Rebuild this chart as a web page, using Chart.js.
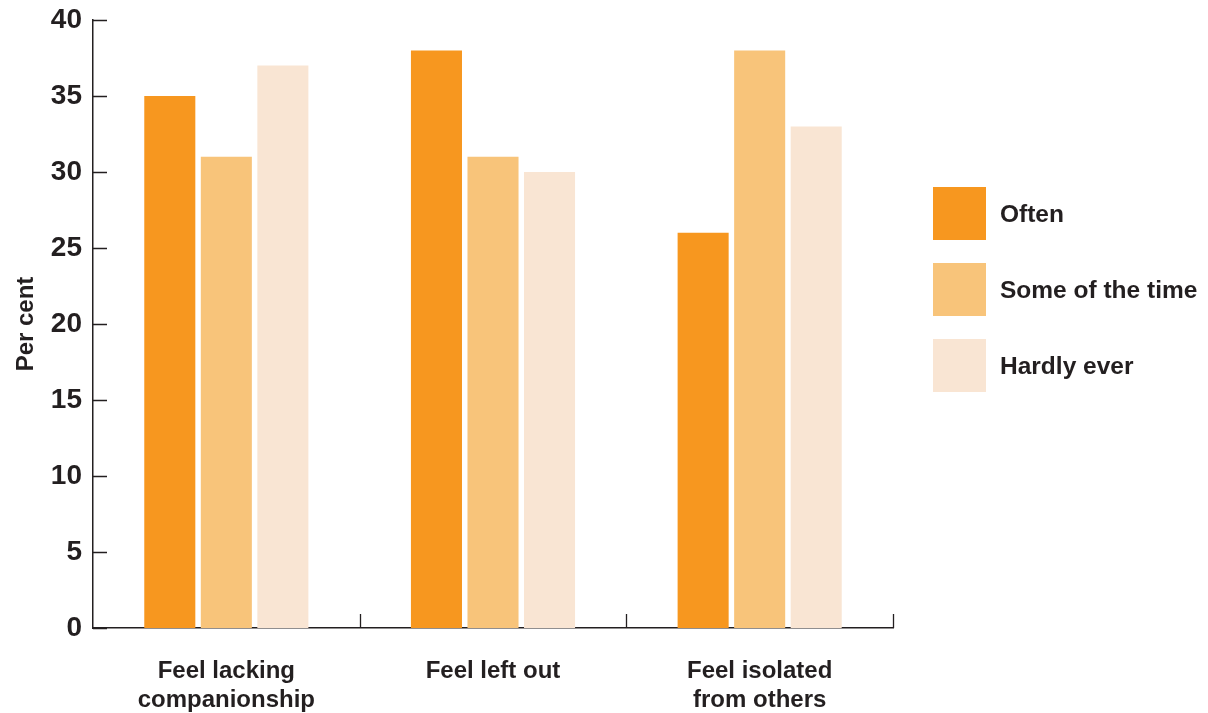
<!DOCTYPE html>
<html>
<head>
<meta charset="utf-8">
<script src="https://cdn.jsdelivr.net/npm/chart.js@4"></script>
<style>
  html, body { margin: 0; padding: 0; background: #fff; }
  #wrap { position: relative; width: 1208px; height: 713px; }
  #legend { position: absolute; left: 933px; top: 187px; font-family: "Liberation Sans", Arial, sans-serif; font-weight: bold; font-size: 24.5px; color: #231F20; }
  .item { display: flex; align-items: center; height: 53px; margin-bottom: 23px; }
  .box { width: 53px; height: 53px; margin-right: 14px; }
</style>
</head>
<body>
<div id="wrap">
  <canvas id="c" width="1208" height="713"></canvas>
  <div id="legend"></div>
</div>
<script>
const categories = [["Feel lacking", "companionship"], "Feel left out", ["Feel isolated", "from others"]];
const seriesNames = ["Often", "Some of the time", "Hardly ever"];
const oftenValues = [35, 38, 26];
const someValues = [31, 31, 38];
const hardlyValues = [37, 30, 33];
const seriesColors = ["#F7971F", "#F8C47A", "#F9E5D3"];
const yTicks = [0, 5, 10, 15, 20, 25, 30, 35, 40];

const textColor = "#231F20";
const font = "'Liberation Sans', Arial, sans-serif";

const inwardTicks = {
  id: "inwardTicks",
  afterDraw(chart) {
    const ctx = chart.ctx;
    const x = chart.scales.x, y = chart.scales.y;
    const len = 14;
    ctx.save();
    ctx.strokeStyle = textColor;
    ctx.lineWidth = 1.3;
    ctx.beginPath();
    yTicks.forEach(v => {
      const py = Math.round(y.getPixelForValue(v)) + 0.5;
      ctx.moveTo(x.left, py);
      ctx.lineTo(x.left + len, py);
    });
    const n = categories.length;
    for (let i = 1; i <= n; i++) {
      const px = Math.round((x.getPixelForValue(i - 1) + (i < n ? x.getPixelForValue(i) : 2 * x.getPixelForValue(i - 1) - x.getPixelForValue(i - 2))) / 2) + 0.5;
      ctx.moveTo(px, y.bottom);
      ctx.lineTo(px, y.bottom - len);
    }
    ctx.stroke();
    ctx.restore();
  }
};

const valueSets = [oftenValues, someValues, hardlyValues];
const datasets = seriesNames.map((name, i) => ({
  label: name,
  data: valueSets[i],
  backgroundColor: seriesColors[i],
  borderWidth: 0,
  categoryPercentage: 0.636,
  barPercentage: 0.903
}));

new Chart(document.getElementById("c"), {
  type: "bar",
  data: { labels: categories, datasets },
  plugins: [inwardTicks],
  options: {
    responsive: false,
    animation: false,
    layout: { padding: { top: 20, right: 315, left: 0, bottom: 0 } },
    plugins: { legend: { display: false }, tooltip: { enabled: false } },
    scales: {
      x: {
        grid: { display: false, drawTicks: false },
        border: { display: true, color: textColor, width: 1.5 },
        ticks: { color: textColor, font: { family: font, weight: "bold", size: 24 }, padding: 29, maxRotation: 0, autoSkip: false },
        afterFit(s) { s.height = 85; s.paddingLeft = 0; s.paddingRight = 0; }
      },
      y: {
        min: 0, max: 40,
        afterBuildTicks(s) { s.ticks = yTicks.map(v => ({ value: v })); },
        grid: { display: false, drawTicks: false },
        border: { display: true, color: textColor, width: 1.5 },
        ticks: { color: textColor, font: { family: font, weight: "bold", size: 28 }, padding: 11 },
        title: { display: true, text: "Per cent", color: textColor, font: { family: font, weight: "bold", size: 24 }, padding: { top: 12, bottom: 0 } },
        afterFit(s) { s.width = 93; s.paddingTop = 0; s.paddingBottom = 0; }
      }
    }
  }
});

const legend = document.getElementById("legend");
seriesNames.forEach((name, i) => {
  const item = document.createElement("div");
  item.className = "item";
  const box = document.createElement("div");
  box.className = "box";
  box.style.background = seriesColors[i];
  const label = document.createElement("span");
  label.textContent = name;
  item.appendChild(box);
  item.appendChild(label);
  legend.appendChild(item);
});
</script>
</body>
</html>
